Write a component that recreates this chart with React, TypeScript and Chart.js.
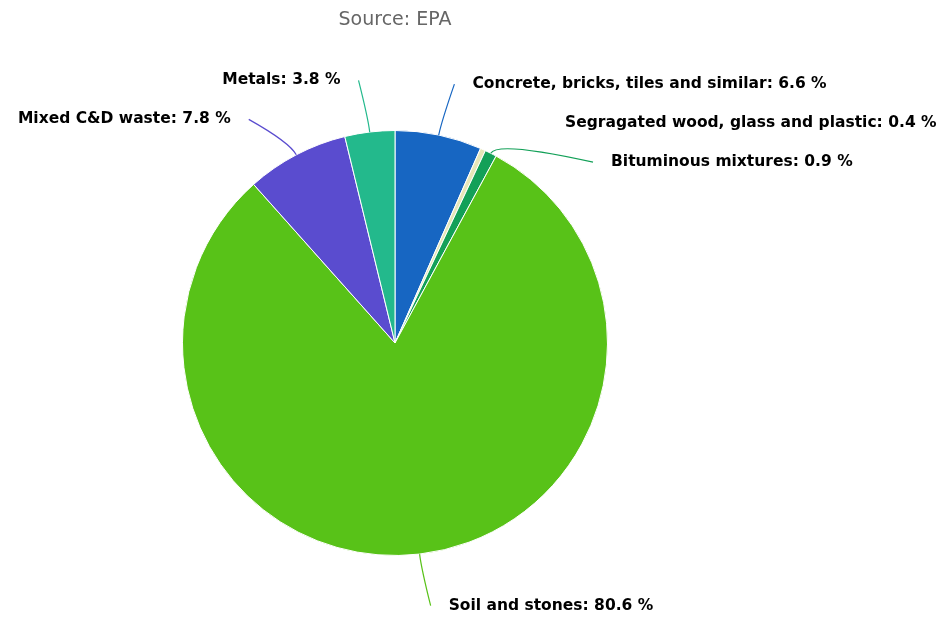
import React, { useEffect, useRef } from "react";
import { Chart, registerables } from "chart.js";

Chart.register(...registerables);

const categories = [
  "Concrete, bricks, tiles and similar",
  "Segragated wood, glass and plastic",
  "Bituminous mixtures",
  "Soil and stones",
  "Mixed C&D waste",
  "Metals",
];
const shares = [6.6, 0.4, 0.9, 80.6, 7.8, 3.8];
const sliceColors = ["#1766c2", "#e6e6b8", "#13a058", "#58c218", "#5a4ccf", "#23b98c"];
const connectorShown = [true, false, true, true, true, true];
const titleText = "Source: EPA";

const labelPlugin = {
  id: "pieLabels",
  afterDatasetsDraw(chart: any) {
    const ctx = chart.ctx as CanvasRenderingContext2D;
    const meta = chart.getDatasetMeta(0);
    const arcs = meta.data;
    if (!arcs.length) return;
    const p0 = arcs[0].getProps(["x", "y", "outerRadius"], true);
    const cx = p0.x, cy = p0.y, r = p0.outerRadius;
    const D = 52;
    const R = r + D;
    const spacing = 39;
    const items = arcs.map((arc: any, i: number) => {
      const p = arc.getProps(["startAngle", "endAngle"], true);
      const mid = (p.startAngle + p.endAngle) / 2;
      const right = Math.cos(mid) >= 0;
      return { i, mid, right, y: cy + R * Math.sin(mid) };
    });
    [true, false].forEach((side) => {
      const group = items
        .filter((it: any) => it.right === side && Math.sin(it.mid) < 0.9)
        .sort((a: any, b: any) => a.y - b.y);
      for (let k = 1; k < group.length; k++) {
        if (group[k].y < group[k - 1].y + spacing) group[k].y = group[k - 1].y + spacing;
      }
    });
    ctx.save();
    ctx.font = "bold 15.5px 'DejaVu Sans', sans-serif";
    ctx.textBaseline = "middle";
    items.forEach((it: any) => {
      const sign = it.right ? 1 : -1;
      const dy = Math.max(-R, Math.min(R, it.y - cy));
      const ax = cx + sign * Math.sqrt(R * R - dy * dy);
      const ex = cx + r * Math.cos(it.mid);
      const ey = cy + r * Math.sin(it.mid);
      const bx = cx + (r + 14) * Math.cos(it.mid);
      const by = cy + (r + 14) * Math.sin(it.mid);
      const endX = ax + sign * 5;
      if (connectorShown[it.i]) {
        ctx.beginPath();
        ctx.moveTo(ex, ey);
        ctx.quadraticCurveTo(bx, by, endX, it.y);
        ctx.strokeStyle = sliceColors[it.i];
        ctx.lineWidth = 1.2;
        ctx.stroke();
      }
      const text = `${categories[it.i]}: ${shares[it.i].toFixed(1)} %`;
      const tx = ax + sign * 23;
      ctx.textAlign = it.right ? "left" : "right";
      ctx.lineWidth = 2;
      ctx.strokeStyle = "#ffffff";
      ctx.lineJoin = "round";
      ctx.strokeText(text, tx, it.y);
      ctx.fillStyle = "#000000";
      ctx.fillText(text, tx, it.y);
    });
    ctx.font = "19px 'DejaVu Sans', sans-serif";
    ctx.fillStyle = "#666666";
    ctx.textAlign = "center";
    ctx.fillText(titleText, cx, 20);
    ctx.restore();
  },
};

export default function App() {
  const ref = useRef<HTMLCanvasElement>(null);
  useEffect(() => {
    if (!ref.current) return;
    const chart = new Chart(ref.current, {
      type: "pie",
      data: {
        labels: categories,
        datasets: [
          {
            data: shares,
            backgroundColor: sliceColors,
            borderColor: "#ffffff",
            borderWidth: 1,
          },
        ],
      },
      options: {
        responsive: true,
        maintainAspectRatio: false,
        animation: false,
        layout: { padding: { left: 182, right: 341, top: 130, bottom: 66 } },
        plugins: {
          legend: { display: false },
          tooltip: { enabled: false },
          title: { display: false },
        },
      },
      plugins: [labelPlugin],
    });
    return () => chart.destroy();
  }, []);
  return (
    <div style={{ position: "fixed", left: 0, top: 0, width: 949, height: 622, background: "#ffffff" }}>
      <canvas ref={ref} />
    </div>
  );
}
